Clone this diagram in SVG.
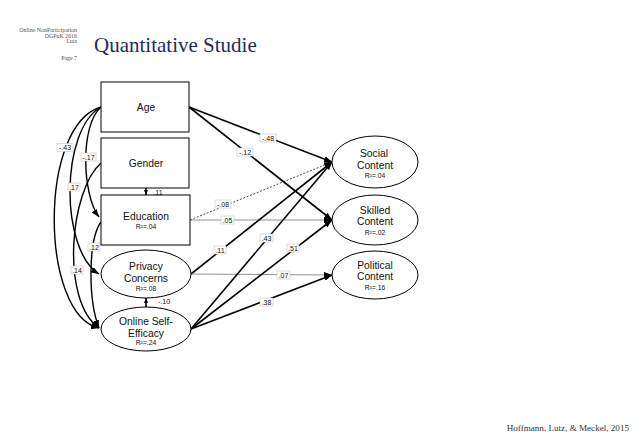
<svg xmlns="http://www.w3.org/2000/svg" width="638" height="442" viewBox="0 0 638 442">
<style>
.hdr{font-family:"Liberation Serif",serif;font-size:5.9px;fill:#555;text-anchor:end}
.title{font-family:"Liberation Serif",serif;font-size:21px;fill:#1f2d5c}
.cite{font-family:"Liberation Serif",serif;font-size:9.1px;fill:#333;text-anchor:end}
.nd{fill:#fff;stroke:#000;stroke-width:1}
.lbl{font-family:"Liberation Sans",Arial,sans-serif;font-size:10.3px;fill:#111;text-anchor:middle}
.r2{font-family:"Liberation Sans",Arial,sans-serif;font-size:6.8px;fill:#111;text-anchor:middle}
.ed{fill:none;stroke:#000;stroke-width:1.6}
.thin{fill:none;stroke:#777;stroke-width:0.8}
.dash{fill:none;stroke:#000;stroke-width:0.7;stroke-dasharray:2,1.6}
.cv{fill:none;stroke:#000;stroke-width:1.4}
.lb{fill:#fff;stroke:#bbb;stroke-width:0.5}
.lt{font-family:"Liberation Sans",Arial,sans-serif;font-size:7px;fill:#111;text-anchor:middle}
</style>
<defs>
<marker id="ah" viewBox="0 0 8 6" refX="8" refY="3" markerWidth="8" markerHeight="6" markerUnits="userSpaceOnUse" orient="auto">
<path d="M0,0 L8,3 L0,6 z" fill="#000"/>
</marker>
<marker id="as" viewBox="0 0 5 4" refX="5" refY="2" markerWidth="5" markerHeight="4" markerUnits="userSpaceOnUse" orient="auto">
<path d="M0,0 L5,2 L0,4 z" fill="#000"/>
</marker>
</defs>
<rect width="638" height="442" fill="#fff"/>
<g id="header">
<text class="hdr" x="77" y="32">Online NonParticipation</text>
<text class="hdr" x="77" y="37.5">DGPuK 2016</text>
<text class="hdr" x="77" y="42.5">Lutz</text>
<text class="hdr" x="77" y="59.5">Page 7</text>
<text class="title" x="94" y="52">Quantitative Studie</text>
</g>
<g id="connectors">
<path class="cv" d="M101,107 C38,125 40,315 99,328" marker-end="url(#ah)"/>
<path class="cv" d="M101,107 C60,130 60,250 99,274" marker-end="url(#ah)"/>
<path class="cv" d="M101,107 C80,125 82,195 99,217" marker-end="url(#ah)"/>
<path class="cv" d="M101,163 C70,190 60,300 99,328" marker-end="url(#ah)"/>
<path class="cv" d="M101,222 C88,240 88,300 99,328" marker-end="url(#ah)"/>
<path class="ed" d="M146,188 L146,195" marker-end="url(#as)"/>
<path class="ed" d="M146,307 L146,298" marker-end="url(#as)"/>
<path class="ed" d="M189,107 L332,162" marker-end="url(#ah)"/>
<path class="ed" d="M189,107 L332,220" marker-end="url(#ah)"/>
<path class="dash" d="M190,220 L332,162" marker-end="url(#ah)"/>
<path class="thin" d="M190,220 L332,220" marker-end="url(#ah)"/>
<path class="ed" d="M191,274 L332,162" marker-end="url(#ah)"/>
<path class="thin" d="M191,274 L332,275" marker-end="url(#ah)"/>
<path class="ed" d="M191,329 L332,162" marker-end="url(#ah)"/>
<path class="ed" d="M191,329 L332,220" marker-end="url(#ah)"/>
<path class="ed" d="M191,329 L332,275" marker-end="url(#ah)"/>
<rect class="lb" x="57" y="143.5" width="16" height="8"/><text class="lt" x="65" y="150">-.43</text>
<rect class="lb" x="81" y="153" width="15" height="8"/><text class="lt" x="88.5" y="159.5">-.17</text>
<rect class="lb" x="68" y="183" width="12" height="8"/><text class="lt" x="74" y="189.5">.17</text>
<rect class="lb" x="88" y="243" width="12" height="8"/><text class="lt" x="94" y="249.5">.12</text>
<rect class="lb" x="71" y="266" width="12" height="8"/><text class="lt" x="77" y="272.5">.14</text>
<text class="lt" x="158" y="194.5">.11</text>
<text class="lt" x="164" y="303.5">-.10</text>
<rect class="lb" x="260" y="134" width="16" height="8"/><text class="lt" x="268" y="140.5">-.48</text>
<rect class="lb" x="237" y="148" width="16" height="8"/><text class="lt" x="245" y="154.5">-.12</text>
<rect class="lb" x="215" y="200" width="16" height="8"/><text class="lt" x="223" y="206.5">-.08</text>
<rect class="lb" x="221" y="216" width="13" height="8"/><text class="lt" x="227.5" y="222.5">.05</text>
<rect class="lb" x="214" y="246" width="12" height="8"/><text class="lt" x="220" y="252.5">.11</text>
<rect class="lb" x="260" y="234" width="13" height="8"/><text class="lt" x="266.5" y="240.5">.43</text>
<rect class="lb" x="287" y="244" width="12" height="8"/><text class="lt" x="293" y="250.5">.51</text>
<rect class="lb" x="277" y="271" width="13" height="8"/><text class="lt" x="283.5" y="277.5">.07</text>
<rect class="lb" x="260" y="298" width="13" height="8"/><text class="lt" x="266.5" y="304.5">.38</text>
</g>
<g id="age">
<rect class="nd" x="101" y="82" width="88" height="50"/>
<text class="lbl" x="146" y="111">Age</text>
</g>
<g id="gender">
<rect class="nd" x="101" y="138" width="88" height="50"/>
<text class="lbl" x="146" y="167">Gender</text>
</g>
<g id="education">
<rect class="nd" x="101" y="195" width="89" height="50"/>
<text class="lbl" x="146" y="220">Education</text>
<text class="r2" x="146" y="228.5">R²=.04</text>
</g>
<g id="privacy">
<ellipse class="nd" cx="146" cy="274" rx="45" ry="24"/>
<text class="lbl" x="146" y="269.5">Privacy</text>
<text class="lbl" x="146" y="282">Concerns</text>
<text class="r2" x="146" y="290.5">R²=.08</text>
</g>
<g id="selfefficacy">
<ellipse class="nd" cx="146" cy="329" rx="45" ry="22"/>
<text class="lbl" x="146" y="324.5">Online Self-</text>
<text class="lbl" x="146" y="336.5">Efficacy</text>
<text class="r2" x="146" y="345">R²=.24</text>
</g>
<g id="social">
<ellipse class="nd" cx="375" cy="162" rx="43" ry="26"/>
<text class="lbl" x="374" y="157">Social</text>
<text class="lbl" x="375" y="168.5">Content</text>
<text class="r2" x="375" y="178">R²=.04</text>
</g>
<g id="skilled">
<ellipse class="nd" cx="375" cy="220" rx="43" ry="25"/>
<text class="lbl" x="375" y="213.5">Skilled</text>
<text class="lbl" x="375" y="225">Content</text>
<text class="r2" x="375" y="235">R²=.02</text>
</g>
<g id="political">
<ellipse class="nd" cx="375" cy="275" rx="43" ry="24"/>
<text class="lbl" x="375" y="268.5">Political</text>
<text class="lbl" x="375" y="280">Content</text>
<text class="r2" x="375" y="289.5">R²=.16</text>
</g>
<g id="citation">
<text class="cite" x="629" y="431">Hoffmann, Lutz, &amp; Meckel, 2015</text>
</g>
</svg>
